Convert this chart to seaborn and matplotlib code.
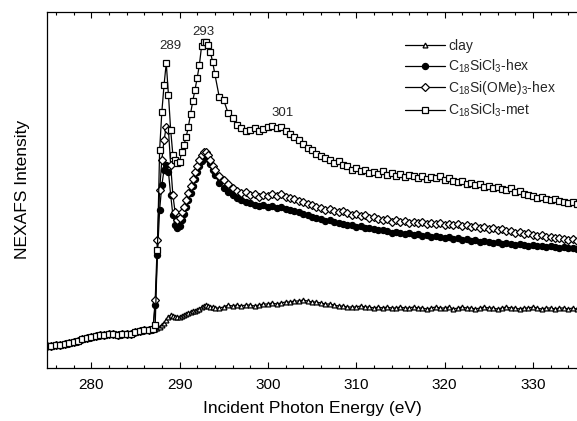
import numpy as np
import pandas as pd
import seaborn as sns
import matplotlib.pyplot as plt
from matplotlib.ticker import MultipleLocator

# energies (eV)
energy_pre = [275.0, 275.5, 276.0, 276.5, 277.0, 277.5, 278.0, 278.5, 279.0, 279.5,
              280.0, 280.5, 281.0, 281.5, 282.0, 282.5, 283.0, 283.5, 284.0, 284.5,
              285.0, 285.5, 286.0, 286.5, 287.0]
energy_edge = [287.25, 287.5, 287.75, 288.0, 288.25, 288.5, 288.75, 289.0,
               289.25, 289.5, 289.75, 290.0, 290.25, 290.5, 290.75, 291.0,
               291.25, 291.5, 291.75, 292.0, 292.25, 292.5, 292.75, 293.0,
               293.25, 293.5, 293.75, 294.0]
energy_post = [294.5, 295.0, 295.5, 296.0, 296.5, 297.0, 297.5, 298.0, 298.5, 299.0,
               299.5, 300.0, 300.5, 301.0, 301.5, 302.0, 302.5, 303.0, 303.5, 304.0,
               304.5, 305.0, 305.5, 306.0, 306.5, 307.0, 307.5, 308.0, 308.5, 309.0,
               309.5, 310.0, 310.5, 311.0, 311.5, 312.0, 312.5, 313.0, 313.5, 314.0,
               314.5, 315.0, 315.5, 316.0, 316.5, 317.0, 317.5, 318.0, 318.5, 319.0,
               319.5, 320.0, 320.5, 321.0, 321.5, 322.0, 322.5, 323.0, 323.5, 324.0,
               324.5, 325.0, 325.5, 326.0, 326.5, 327.0, 327.5, 328.0, 328.5, 329.0,
               329.5, 330.0, 330.5, 331.0, 331.5, 332.0, 332.5, 333.0, 333.5, 334.0,
               334.5, 335.0]

# intensity (arb. units), pre-edge is common to all samples
pre_edge = [22, 22, 23, 23, 24, 25, 26, 27, 29, 30,
            31, 32, 33, 33, 34, 34, 33, 34, 34, 34,
            36, 37, 38, 38, 39]

clay_edge = [39, 40, 41, 43, 45, 48, 51, 53, 52, 51, 51, 51, 52, 53,
             54, 55, 56, 57, 57, 58, 59, 61, 62, 63, 62, 61, 61, 60]
clay_post = [60, 61, 63, 62, 63, 62, 63, 63, 62, 63,
             64, 64, 65, 64, 65, 66, 66, 67, 67, 68,
             67, 66, 66, 65, 64, 64, 63, 62, 62, 61,
             61, 61, 62, 61, 61, 60, 61, 60, 61, 60,
             60, 61, 60, 60, 61, 60, 60, 59, 60, 61,
             60, 60, 61, 59, 60, 61, 60, 60, 59, 60,
             61, 60, 60, 59, 60, 61, 60, 60, 59, 60,
             60, 61, 60, 59, 60, 60, 59, 60, 60, 59,
             60, 59]

hex_edge = [63, 113, 158, 183, 198, 203, 196, 173, 153, 143, 140, 142, 148, 154,
            161, 168, 175, 182, 189, 196, 202, 207, 210, 211, 209, 204, 198, 193]
hex_post = [185, 180, 176, 173, 170, 168, 166, 165, 163, 162,
            163, 161, 162, 160, 161, 159, 158, 157, 156, 154,
            153, 151, 150, 149, 147, 148, 146, 145, 144, 143,
            143, 141, 142, 140, 140, 139, 138, 138, 137, 135,
            136, 135, 134, 135, 133, 134, 132, 133, 131, 132,
            131, 130, 131, 129, 130, 128, 129, 127, 128, 126,
            127, 126, 125, 126, 124, 125, 124, 123, 124, 123,
            122, 123, 122, 122, 121, 122, 121, 120, 121, 120,
            120, 119]

ome_edge = [68, 128, 178, 208, 228, 241, 238, 203, 173, 156, 148, 150, 156, 161,
            168, 175, 182, 189, 196, 202, 208, 213, 216, 216, 213, 208, 202, 198]
ome_post = [192, 188, 184, 180, 177, 175, 176, 173, 174, 171,
            173, 172, 174, 172, 174, 171, 170, 169, 167, 166,
            164, 163, 161, 160, 158, 159, 157, 156, 157, 155,
            153, 154, 152, 153, 150, 151, 149, 148, 149, 146,
            148, 146, 147, 145, 146, 145, 146, 144, 145, 144,
            145, 143, 144, 143, 144, 142, 143, 141, 142, 140,
            141, 139, 140, 138, 139, 137, 137, 135, 136, 134,
            135, 133, 132, 133, 131, 131, 130, 130, 129, 128,
            129, 127]

met_edge = [43, 118, 218, 256, 283, 305, 273, 238, 213, 208, 205, 206, 216, 223,
            231, 241, 254, 267, 278, 290, 303, 322, 326, 326, 323, 316, 306, 294]
met_post = [271, 268, 255, 250, 243, 240, 237, 238, 240, 237,
            239, 241, 242, 240, 241, 237, 234, 231, 228, 224,
            220, 218, 214, 212, 210, 208, 205, 207, 203, 202,
            198, 200, 197, 198, 195, 196, 194, 197, 193, 195,
            192, 194, 191, 193, 192, 190, 192, 189, 191, 190,
            192, 188, 190, 187, 186, 187, 184, 185, 183, 184,
            181, 182, 180, 181, 179, 178, 180, 176, 177, 174,
            173, 172, 170, 171, 169, 168, 169, 167, 166, 165,
            166, 164]

peak_labels = ['289', '293', '301']
peak_x = [289.0, 292.7, 301.7]
peak_y = [322, 336, 255]

energy = energy_pre + energy_edge + energy_post
series = {
    'clay': pre_edge + clay_edge + clay_post,
    r'C$_{18}$SiCl$_3$-hex': pre_edge + hex_edge + hex_post,
    r'C$_{18}$Si(OMe)$_3$-hex': pre_edge + ome_edge + ome_post,
    r'C$_{18}$SiCl$_3$-met': pre_edge + met_edge + met_post,
}
styles = {
    'clay': dict(marker='^', markersize=3.5, markerfacecolor='white'),
    r'C$_{18}$SiCl$_3$-hex': dict(marker='o', markersize=4.4, markerfacecolor='black'),
    r'C$_{18}$Si(OMe)$_3$-hex': dict(marker='D', markersize=3.6, markerfacecolor='white'),
    r'C$_{18}$SiCl$_3$-met': dict(marker='s', markersize=4.2, markerfacecolor='white'),
}

sns.set_style('ticks')
plt.rcParams['font.family'] = ['Liberation Sans', 'DejaVu Sans']
plt.rcParams['mathtext.fontset'] = 'custom'
plt.rcParams['mathtext.rm'] = 'Liberation Sans'
plt.rcParams['mathtext.it'] = 'Liberation Sans:italic'

fig = plt.figure(figsize=(5.77, 4.21), dpi=100)
ax = fig.add_axes([47/577, 53/421, 530/577, 356.5/421])

for name, vals in series.items():
    df = pd.DataFrame({'energy': energy, 'intensity': vals})
    sns.lineplot(data=df, x='energy', y='intensity', ax=ax, color='black',
                 linewidth=0.9, markeredgecolor='black', markeredgewidth=0.9,
                 label=name, sort=False, estimator=None, **styles[name])

for t, x, y in zip(peak_labels, peak_x, peak_y):
    ax.text(x, y, t, ha='center', va='center', fontsize=9.5)

ax.set_xlim(275, 335)
ax.set_ylim(0, 356.5)
ax.set_yticks([])
ax.xaxis.set_major_locator(MultipleLocator(10))
ax.xaxis.set_minor_locator(MultipleLocator(2))
ax.tick_params(axis='x', which='both', direction='in', top=True, bottom=True,
               width=0.8, labelsize=11, pad=7, colors='black')
ax.tick_params(axis='x', which='major', length=4)
ax.tick_params(axis='x', which='minor', length=2.5)
ax.spines['right'].set_visible(False)
for s in ['left', 'top', 'bottom']:
    ax.spines[s].set_linewidth(0.9)
    ax.spines[s].set_color('black')

ax.set_xlabel('Incident Photon Energy (eV)', fontsize=12.5, labelpad=7, color='black')
ax.set_ylabel('NEXAFS Intensity', fontsize=12.5, labelpad=12, color='black')

ax.legend(loc='upper left', bbox_to_anchor=(405/577, 1 - 39/421),
          bbox_transform=fig.transFigure, frameon=False, borderpad=0,
          borderaxespad=0, handlelength=2.9, handletextpad=0.2,
          labelspacing=0.32, fontsize=10)

fig.savefig('out.png', dpi=100)
